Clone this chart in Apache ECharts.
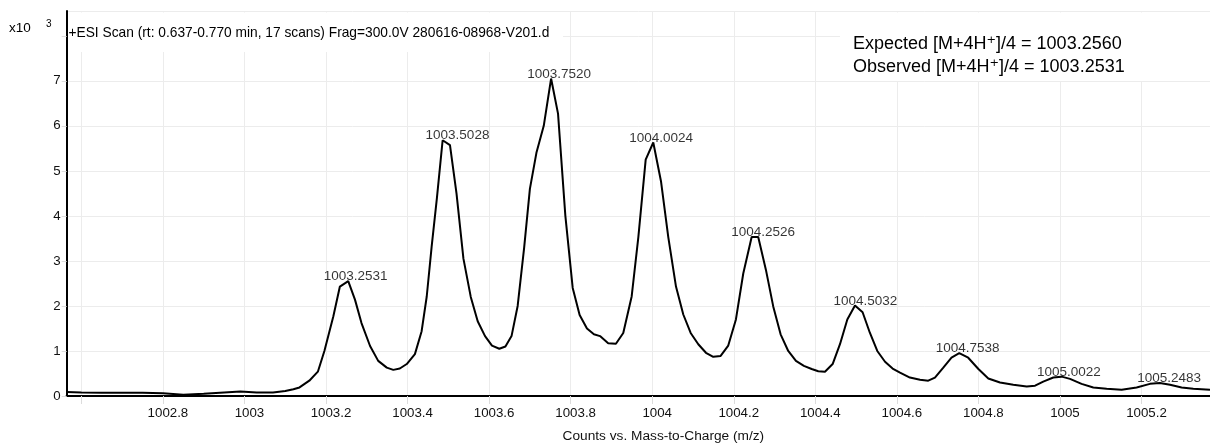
<!DOCTYPE html>
<html>
<head>
<meta charset="utf-8">
<script src="https://cdn.jsdelivr.net/npm/echarts@6/dist/echarts.min.js"></script>
<style>
  html, body { margin: 0; padding: 0; background: #fff; }
  #chart { width: 1210px; height: 448px; }
</style>
</head>
<body>
<div id="chart"></div>
<script>
// ---- data (intensity in units of 10^3 counts) ----
const mz = [
  1002.564, 1002.600, 1002.650, 1002.700, 1002.750, 1002.800, 1002.850, 1002.900, 1002.950, 1002.990,
  1003.030, 1003.070, 1003.100, 1003.120, 1003.135, 1003.159, 1003.180, 1003.196, 1003.218, 1003.234,
  1003.2545, 1003.271, 1003.287, 1003.308, 1003.328, 1003.349, 1003.365, 1003.381, 1003.398, 1003.418,
  1003.4345, 1003.447, 1003.459, 1003.472, 1003.486, 1003.504, 1003.520, 1003.537, 1003.555, 1003.572,
  1003.590, 1003.607, 1003.625, 1003.640, 1003.655, 1003.670, 1003.686, 1003.700, 1003.716, 1003.734,
  1003.752, 1003.769, 1003.787, 1003.805, 1003.822, 1003.840, 1003.857, 1003.872, 1003.892, 1003.911,
  1003.929, 1003.9496, 1003.966, 1003.984, 1004.0026, 1004.0215, 1004.0394, 1004.0583, 1004.0762, 1004.0943,
  1004.113, 1004.1318, 1004.1497, 1004.1678, 1004.1865, 1004.2053, 1004.2233, 1004.2439, 1004.260, 1004.2789,
  1004.2968, 1004.3149, 1004.3336, 1004.3525, 1004.372, 1004.3911, 1004.4073, 1004.4237, 1004.4425, 1004.4605,
  1004.4785, 1004.4973, 1004.516, 1004.534, 1004.552, 1004.571, 1004.5896, 1004.6077, 1004.632, 1004.6568,
  1004.677, 1004.6934, 1004.7139, 1004.734, 1004.753, 1004.775, 1004.800, 1004.8243, 1004.853, 1004.8856,
  1004.9185, 1004.939, 1004.959, 1004.9837, 1005.004, 1005.0247, 1005.053, 1005.0818, 1005.1145, 1005.1513,
  1005.188, 1005.2207, 1005.245, 1005.270, 1005.2984, 1005.327, 1005.368
];
const intensity = [
  0.09, 0.08, 0.07, 0.07, 0.07, 0.06, 0.03, 0.05, 0.08, 0.10,
  0.08, 0.08, 0.11, 0.15, 0.19, 0.34, 0.54, 1.00, 1.77, 2.43,
  2.55, 2.14, 1.62, 1.11, 0.78, 0.63, 0.58, 0.61, 0.71, 0.93,
  1.44, 2.21, 3.31, 4.40, 5.68, 5.57, 4.50, 3.05, 2.20, 1.66,
  1.33, 1.12, 1.05, 1.10, 1.33, 2.00, 3.30, 4.60, 5.40, 6.00,
  7.05, 6.27, 4.00, 2.40, 1.80, 1.50, 1.37, 1.33, 1.17, 1.16,
  1.40, 2.21, 3.53, 5.25, 5.63, 4.77, 3.53, 2.43, 1.81, 1.40,
  1.15, 0.96, 0.87, 0.89, 1.12, 1.70, 2.72, 3.53, 3.53, 2.80,
  1.99, 1.37, 1.00, 0.78, 0.67, 0.60, 0.55, 0.54, 0.71, 1.15,
  1.70, 2.01, 1.86, 1.40, 1.00, 0.76, 0.61, 0.52, 0.41, 0.36,
  0.34, 0.41, 0.63, 0.85, 0.95, 0.85, 0.60, 0.39, 0.30, 0.25,
  0.21, 0.23, 0.32, 0.41, 0.43, 0.38, 0.27, 0.19, 0.16, 0.14,
  0.19, 0.27, 0.29, 0.25, 0.19, 0.16, 0.14
];
const peakMz     = [1003.2531, 1003.5028, 1003.7520, 1004.0024, 1004.2526, 1004.5032, 1004.7538, 1005.0022, 1005.2483];
const peakHeight = [2.55, 5.68, 7.05, 5.63, 3.53, 2.01, 0.95, 0.43, 0.29];
const peakLabels = ['1003.2531', '1003.5028', '1003.7520', '1004.0024', '1004.2526', '1004.5032', '1004.7538', '1005.0022', '1005.2483'];
const xTickLabels = ['1002.8', '1003', '1003.2', '1003.4', '1003.6', '1003.8', '1004', '1004.2', '1004.4', '1004.6', '1004.8', '1005', '1005.2'];
const yTickLabels = ['0', '1', '2', '3', '4', '5', '6', '7'];
const titleText = '+ESI Scan (rt: 0.637-0.770 min, 17 scans) Frag=300.0V 280616-08968-V201.d';
const annotationLines = ['Expected [M+4H\u207A]/4 = 1003.2560', 'Observed [M+4H\u207A]/4 = 1003.2531'];
const xAxisName = 'Counts vs. Mass-to-Charge (m/z)';

// ---- chart ----
const FONT = '"Liberation Sans", Arial, "DejaVu Sans", sans-serif';
const TXT = '#000';
const chart = echarts.init(document.getElementById('chart'), null, { renderer: 'canvas' });

const lineData = mz.map((m, i) => [m, intensity[i]]);
const peakData = peakMz.map((m, i) => [m, peakHeight[i]]);

chart.setOption({
  animation: false,
  backgroundColor: '#fff',
  textStyle: { fontFamily: FONT },
  grid: { left: 66.7, right: 0, top: 11, bottom: 47.3, containLabel: false },
  xAxis: [{
    type: 'value',
    min: 1002.564,
    max: 1005.368,
    splitNumber: 14,
    axisLine: { show: true, onZero: false, lineStyle: { color: '#000', width: 2 } },
    axisTick: { show: true, length: 8, lineStyle: { color: '#dcdcdc', width: 1 } },
    axisLabel: {
      color: '#111', fontSize: 13.3, fontFamily: FONT, margin: 11, padding: [0, 0, 0, 10],
      showMinLabel: false, showMaxLabel: false,
      formatter: function (v) {
        const s = String(+v.toFixed(1));
        return xTickLabels.indexOf(s) >= 0 ? s : '';
      }
    },
    splitLine: { show: true, lineStyle: { color: '#ececec', width: 1 } },
    name: xAxisName,
    nameLocation: 'middle',
    nameGap: 33,
    nameTextStyle: { color: '#111', fontSize: 13.7, fontFamily: FONT, padding: [0, 0, 0, 50] }
  }, {
    type: 'value',
    position: 'top',
    min: 0, max: 1,
    axisLine: { show: true, lineStyle: { color: '#000', width: 2 } },
    axisTick: { show: false },
    axisLabel: { show: false },
    splitLine: { show: false }
  }],
  yAxis: {
    type: 'value',
    min: 0,
    max: 8.55,
    interval: 1,
    axisLine: { show: true, lineStyle: { color: '#000', width: 2 } },
    axisTick: { show: true, length: 5, lineStyle: { color: '#dcdcdc', width: 1 } },
    axisLabel: {
      color: '#111', fontSize: 13.3, fontFamily: FONT, margin: 6,
      showMaxLabel: false,
      formatter: function (v) {
        const s = String(Math.round(v));
        return yTickLabels.indexOf(s) >= 0 ? s : '';
      }
    },
    splitLine: { show: true, lineStyle: { color: '#ececec', width: 1 } }
  },
  series: [{
    type: 'line',
    data: lineData,
    showSymbol: false,
    symbol: 'none',
    smooth: false,
    lineStyle: { color: '#000', width: 2 },
    z: 3
  }, {
    type: 'scatter',
    data: peakData,
    symbolSize: 1,
    itemStyle: { color: 'rgba(0,0,0,0)' },
    label: {
      show: true,
      position: 'top',
      distance: 0,
      offset: [8, 3],
      color: TXT,
      fontSize: 13.5,
      fontFamily: FONT,
      formatter: function (p) { return peakLabels[p.dataIndex]; }
    },
    z: 4
  }],
  graphic: [
    { type: 'rect', z: 1, shape: { x: 68, y: 12.5, width: 495, height: 39.5 }, style: { fill: '#fff' } },
    { type: 'rect', z: 1, shape: { x: 840, y: 12.5, width: 370, height: 68.5 }, style: { fill: '#fff' } },
    { type: 'text', z: 5, left: 9, top: 21.5, style: { text: 'x10', fill: TXT, font: '13.5px ' + FONT } },
    { type: 'text', z: 5, left: 46, top: 19.5, style: { text: '3', fill: TXT, font: '10px ' + FONT } },
    { type: 'text', z: 5, left: 68.5, top: 26.5, style: { text: titleText, fill: TXT, font: '13.75px ' + FONT } },
    { type: 'text', z: 5, left: 853, top: 35.5, style: { text: annotationLines[0], fill: TXT, font: '18px ' + FONT } },
    { type: 'text', z: 5, left: 853, top: 58.5, style: { text: annotationLines[1], fill: TXT, font: '18px ' + FONT } }
  ]
});
</script>
</body>
</html>
